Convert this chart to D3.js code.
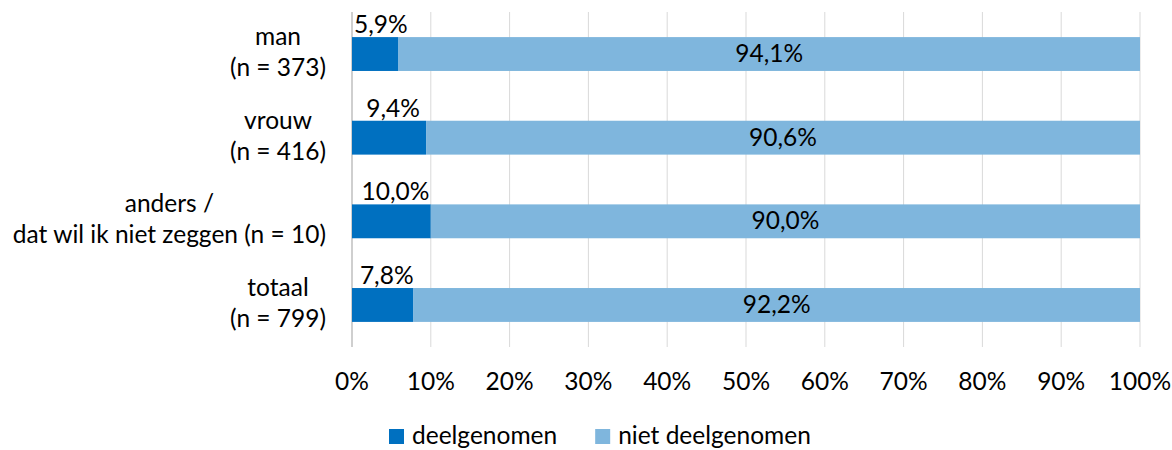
<!DOCTYPE html>
<html>
<head>
<meta charset="utf-8">
<script src="https://cdn.jsdelivr.net/npm/d3@7"></script>
<style>
  body { margin: 0; background: #fff; }
  text { font-family: Lato, "Open Sans", sans-serif; fill: #000; }
</style>
</head>
<body>
<div id="chart"></div>
<script>
const categories = [
    ["man", "(n = 373)"],
    ["vrouw", "(n = 416)"],
    ["anders /", "dat wil ik niet zeggen (n = 10)"],
    ["totaal", "(n = 799)"]
];
const deelgenomen = [5.9, 9.4, 10.0, 7.8];
const nietDeelgenomen = [94.1, 90.6, 90.0, 92.2];
const ticks = [0, 10, 20, 30, 40, 50, 60, 70, 80, 90, 100];
const seriesNames = ["deelgenomen", "niet deelgenomen"];
const colors = ["#0070c0", "#7fb6dd"];

const width = 1172, height = 450;
const margin = {top: 12, right: 32, bottom: 103, left: 352};
const fs = "24.5px";
const fmt = v => v.toFixed(1).replace(".", ",") + "%";

const svg = d3.select("#chart").append("svg")
    .attr("width", width)
    .attr("height", height);

const x = d3.scaleLinear().domain([0, 100]).range([margin.left, width - margin.right]);
const y = d3.scaleBand().domain(d3.range(categories.length))
    .range([margin.top, height - margin.bottom]).paddingInner(0.595).paddingOuter(0.3);

// gridlines
svg.append("g").selectAll("line").data(ticks).join("line")
    .attr("x1", d => x(d)).attr("x2", d => x(d))
    .attr("y1", margin.top).attr("y2", height - margin.bottom)
    .attr("stroke", d => d === 0 ? "#bfbfbf" : "#d9d9d9")
    .attr("stroke-width", d => d === 0 ? 1.5 : 1);

// tick labels
svg.append("g").selectAll("text").data(ticks).join("text")
    .attr("x", d => x(d)).attr("y", 390)
    .attr("text-anchor", "middle")
    .style("font-size", fs)
    .text(d => d + "%");

const rows = categories.map((c, i) => ({i: i, a: deelgenomen[i], b: nietDeelgenomen[i]}));

svg.append("g").selectAll("rect").data(rows).join("rect")
    .attr("x", d => x(0)).attr("y", d => y(d.i))
    .attr("width", d => x(d.a) - x(0)).attr("height", y.bandwidth())
    .attr("fill", colors[0]);
svg.append("g").selectAll("rect").data(rows).join("rect")
    .attr("x", d => x(d.a)).attr("y", d => y(d.i))
    .attr("width", d => x(d.a + d.b) - x(d.a)).attr("height", y.bandwidth())
    .attr("fill", colors[1]);

// value labels: small share above the bar, kept right of the axis
svg.append("g").selectAll("text").data(rows).join("text")
    .attr("y", d => y(d.i) - 4)
    .attr("text-anchor", "middle")
    .style("font-size", fs)
    .text(d => fmt(d.a))
    .each(function(d) {
        const half = this.getComputedTextLength() / 2;
        d3.select(this).attr("x", Math.max((x(0) + x(d.a)) / 2 + 4, x(0) + 2 + half));
    });
svg.append("g").selectAll("text").data(rows).join("text")
    .attr("x", d => (x(d.a) + x(d.a + d.b)) / 2).attr("y", d => y(d.i) + y.bandwidth() / 2 + 8)
    .attr("text-anchor", "middle")
    .style("font-size", fs)
    .text(d => fmt(d.b));

// category labels, centred lines with right edge near axis
const catG = svg.append("g");
categories.forEach(function(lines, i) {
    const g = catG.append("g");
    const cy = y(i) + y.bandwidth() / 2;
    const ts = lines.map(function(l, k) {
        return g.append("text")
            .attr("y", cy - 9 + k * 31)
            .attr("text-anchor", "middle")
            .style("font-size", fs)
            .text(l);
    });
    const w = d3.max(ts, t => t.node().getComputedTextLength());
    ts.forEach(t => t.attr("x", 326 - w / 2));
});

// legend
const leg = svg.append("g");
let lx = 389;
seriesNames.forEach(function(name, i) {
    leg.append("rect").attr("x", lx).attr("y", 429).attr("width", 15).attr("height", 15)
        .attr("fill", colors[i]);
    const t = leg.append("text").attr("x", lx + 23).attr("y", 444)
        .style("font-size", fs).text(name);
    lx += 23 + t.node().getComputedTextLength() + 38;
});
</script>
</body>
</html>
